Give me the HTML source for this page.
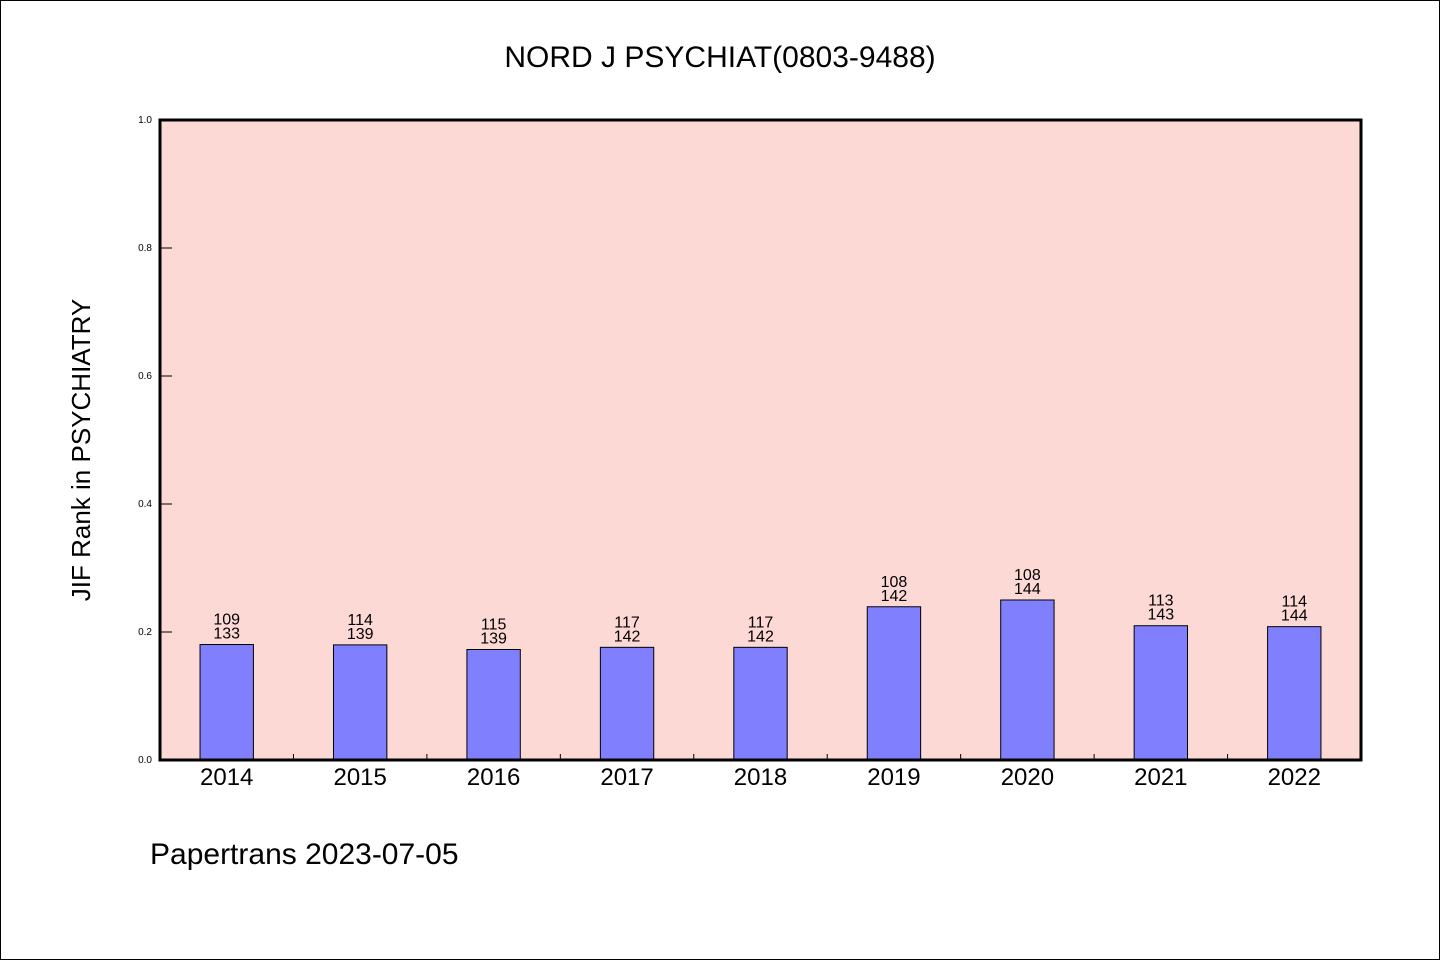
<!DOCTYPE html>
<html><head><meta charset="utf-8"><style>
body{margin:0;background:#fff}
svg text{font-family:"Liberation Sans","WenQuanYi Zen Hei",sans-serif}
</style></head><body>
<svg width="1440" height="960" xmlns="http://www.w3.org/2000/svg">
<rect x="0.5" y="0.5" width="1439" height="959" fill="#fff" stroke="#000"/>
<text x="720" y="67" text-anchor="middle" font-size="30">NORD J PSYCHIAT(0803-9488)</text>
<rect x="160" y="120" width="1201" height="640" fill="#fdd9d6"/>
<g id="yt"></g><g id="xt"></g><g id="bars"></g>
<rect x="160" y="120" width="1201" height="640" fill="none" stroke="#000" stroke-width="3"/>
<text transform="translate(90,450) rotate(-90)" text-anchor="middle" font-size="26">JIF Rank in PSYCHIATRY</text>
<text x="150" y="864" font-size="30">Papertrans 2023-07-05</text>
</svg>
<script>
const years=["2014","2015","2016","2017","2018","2019","2020","2021","2022"];
const ranks=[109,114,115,117,117,108,108,113,114];
const totals=[133,139,139,142,142,142,144,143,144];
const yTicks=[0,0.2,0.4,0.6,0.8,1.0];
const NS="http://www.w3.org/2000/svg";
const X0=160,X1=1361,Y0=760,Y1=120;
const cw=(X1-X0)/years.length;
const xc=i=>X0+cw*(i+0.5);
const y=v=>Y0-(Y0-Y1)*v;
function mk(t,a,p){const e=document.createElementNS(NS,t);for(const k in a)e.setAttribute(k,a[k]);p.appendChild(e);return e;}
const yt=document.getElementById('yt'),xt=document.getElementById('xt'),bars=document.getElementById('bars');
yTicks.forEach(v=>{
 const l=mk('line',{x1:X0,x2:X0+12,y1:y(v),y2:y(v),stroke:'#000'},yt);
 
 
 const t=mk('text',{x:X0-8,y:y(v)+3,'text-anchor':'end','font-size':10},yt);
 t.textContent=v.toFixed(1);
 
 
});
for(let i=1;i<years.length;i++){
 const l=mk('line',{x1:X0+cw*i,x2:X0+cw*i,y1:Y0,y2:Y0-6,stroke:'#000'},xt);
 
 
}
years.forEach((yr,i)=>{
 const v=1-ranks[i]/totals[i];
 const bw=cw*0.4;
 const r=mk('rect',{x:xc(i)-bw/2,y:y(v),width:bw,height:Y0-y(v),fill:'#8080ff',stroke:'#000','stroke-width':1},bars);
 
 
 const t1=mk('text',{x:xc(i),y:y(v)-20,'text-anchor':'middle','font-size':16},bars);
 t1.textContent=ranks[i];
 
 
 const t2=mk('text',{x:xc(i),y:y(v)-6,'text-anchor':'middle','font-size':16},bars);
 t2.textContent=totals[i];
 
 
 const xl=mk('text',{x:xc(i),y:785,'text-anchor':'middle','font-size':24},xt);
 xl.textContent=yr;
 
 
});
</script>
</body></html>
